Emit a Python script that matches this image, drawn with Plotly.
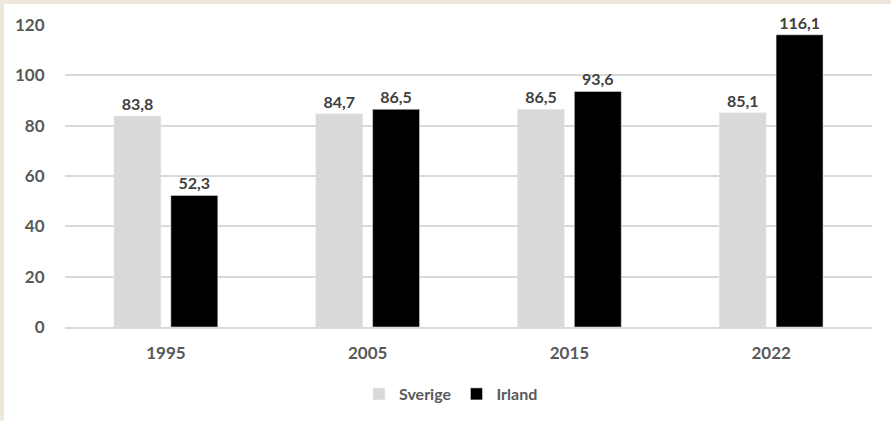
import plotly.graph_objects as go

years = ["1995", "2005", "2015", "2022"]
sverige = [83.8, 84.7, 86.5, 85.1]
irland = [52.3, 86.5, 93.6, 116.1]
y_ticks = [0, 20, 40, 60, 80, 100, 120]

def fmt(v):
    return f"{v:.1f}".replace(".", ",")

FONT = "Lato, Open Sans, sans-serif"
GREY = "#595959"
LABEL_FONT = dict(family=FONT, size=16, color="#404040", weight="bold")

fig = go.Figure()
fig.add_trace(go.Bar(
    name="Sverige", x=years, y=sverige, marker_color="#D9D9D9",
    text=[fmt(v) for v in sverige],
    textposition="outside", textfont=LABEL_FONT, cliponaxis=False,
))
fig.add_trace(go.Bar(
    name="Irland", x=years, y=irland, marker_color="#000000",
    text=[fmt(v) for v in irland],
    textposition="outside", textfont=LABEL_FONT, cliponaxis=False,
))

W, H = 891, 422
ml, mr, mt, mb = 65, 19, 25, 94
pw, ph = W - ml - mr, H - mt - mb

def px_x(p):
    return (p - ml) / pw

def px_y(p):
    return (H - mb - p) / ph

BORDER = "#EEE8DC"
shapes = [
    dict(type="rect", xref="paper", yref="paper", x0=px_x(0), x1=px_x(4), y0=px_y(H), y1=px_y(0),
         fillcolor=BORDER, line_width=0, layer="below"),
    dict(type="rect", xref="paper", yref="paper", x0=px_x(0), x1=px_x(W), y0=px_y(4), y1=px_y(0),
         fillcolor=BORDER, line_width=0, layer="below"),
]

fig.update_layout(
    width=W, height=H,
    margin=dict(l=ml, r=mr, t=mt, b=mb),
    paper_bgcolor="white", plot_bgcolor="white",
    barmode="group", bargap=0.436, bargroupgap=0.175,
    font=dict(family=FONT, color=GREY, size=16),
    showlegend=True,
    legend=dict(orientation="h", x=px_x(451), xanchor="center", y=px_y(394), yanchor="middle",
                font=dict(family=FONT, size=16, color=GREY, weight="bold"),
                itemwidth=30, traceorder="normal"),
    shapes=shapes,
    xaxis=dict(showgrid=False, showline=True, linecolor="#D9D9D9", linewidth=1.5,
               ticks="outside", ticklen=10, tickcolor="rgba(0,0,0,0)",
               tickfont=dict(family=FONT, size=17, color=GREY, weight="bold")),
    yaxis=dict(range=[0, 120], tickvals=y_ticks, showgrid=True, gridcolor="#D9D9D9", gridwidth=1.5,
               zeroline=False, showline=False, ticks="outside", ticklen=16, tickcolor="rgba(0,0,0,0)",
               tickfont=dict(family=FONT, size=17, color=GREY, weight="bold")),
)

fig.write_html("out.html", config={"displayModeBar": False},
               post_script="document.body.style.margin='0';")
